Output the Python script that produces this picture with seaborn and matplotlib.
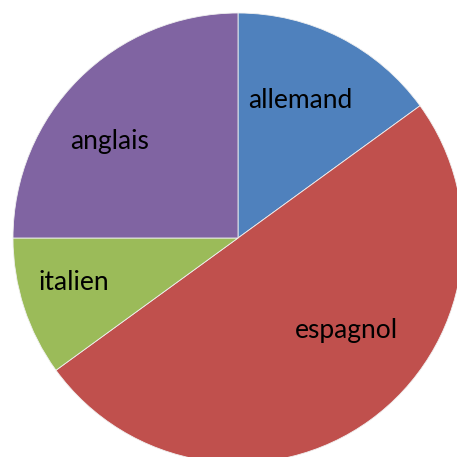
import matplotlib
matplotlib.use("Agg")
import matplotlib.pyplot as plt
import seaborn as sns

# languages and their shares (%)
langues = ["allemand", "espagnol", "italien", "anglais"]
parts = [15, 50, 10, 25]
couleurs = ["#4F81BD", "#C0504D", "#9BBB59", "#8064A2"]

# where the labels sit (pie radius = 1)
label_pos = [(0.276, 0.609), (0.484, -0.413), (-0.731, -0.20), (-0.573, 0.427)]

sns.set_style("white")
plt.rcParams["font.family"] = ["Lato", "DejaVu Sans"]

fig = plt.figure(figsize=(4.57, 4.57), dpi=100)
ax = fig.add_axes([13 / 457, -6 / 457, 450 / 457, 450 / 457])

ax.pie(parts, colors=couleurs, startangle=90, counterclock=False,
       radius=1, wedgeprops=dict(edgecolor="#f0f0f0", linewidth=0.6))
for lab, (x, y) in zip(langues, label_pos):
    ax.text(x, y, lab, ha="center", va="center", fontsize=19, color="black")

ax.set_xlim(-1, 1)
ax.set_ylim(-1, 1)
ax.set_aspect("equal")
ax.axis("off")

fig.savefig("out.png", dpi=100)
